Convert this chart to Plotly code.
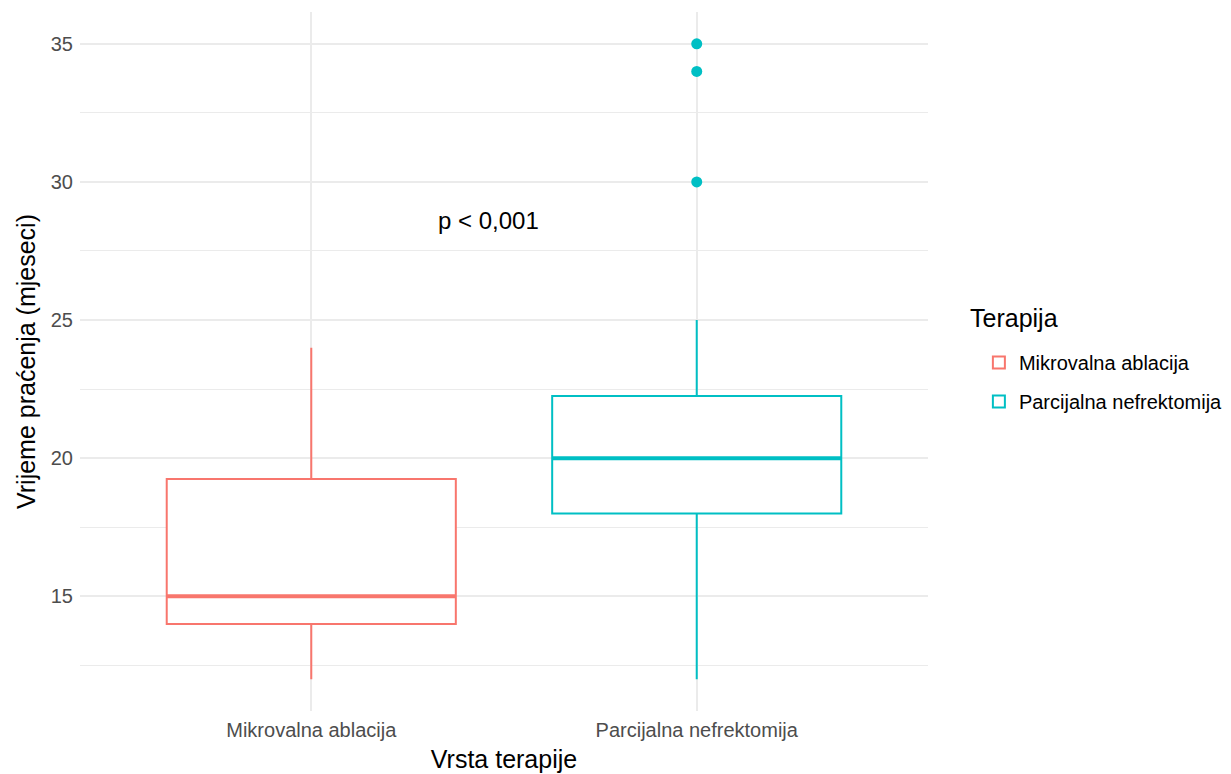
import plotly.graph_objects as go

categories = ["Mikrovalna ablacija", "Parcijalna nefrektomija"]
colors = ["#F8766D", "#00BFC4"]
q1 = [14, 18]
median = [15, 20]
q3 = [19.25, 22.25]
lower_whisker = [12, 12]
upper_whisker = [24, 25]
outliers = [[], [30, 34, 35]]
p_text = "p < 0,001"
p_pos = (1.46, 28.6)
legend_title = "Terapija"

FONT = "Liberation Sans, Arial, Helvetica, sans-serif"
BOXW = 0.75

fig = go.Figure()
for i, cat in enumerate(categories):
    xpos = i + 1
    fig.add_trace(go.Box(
        x=[xpos], q1=[q1[i]], median=[median[i]], q3=[q3[i]],
        lowerfence=[lower_whisker[i]], upperfence=[upper_whisker[i]],
        name=cat, legendgroup=cat, width=BOXW, whiskerwidth=0,
        line=dict(color=colors[i], width=2), fillcolor="white",
        boxpoints=False, hoverinfo="skip",
    ))
    fig.add_trace(go.Scatter(
        x=[xpos - BOXW / 2, xpos + BOXW / 2], y=[median[i], median[i]],
        mode="lines", line=dict(color=colors[i], width=4),
        showlegend=False, legendgroup=cat, hoverinfo="skip",
    ))
    if outliers[i]:
        fig.add_trace(go.Scatter(
            x=[xpos] * len(outliers[i]), y=outliers[i], mode="markers",
            marker=dict(color=colors[i], size=11),
            showlegend=False, legendgroup=cat, hoverinfo="skip",
        ))

fig.add_annotation(x=p_pos[0], y=p_pos[1], text=p_text, showarrow=False,
                   font=dict(family=FONT, size=24, color="black"))

fig.add_annotation(xref="paper", yref="paper", x=(968 - 80) / 848, y=(711 - 318) / 699,
                   xanchor="left", yanchor="middle", text=legend_title, showarrow=False,
                   font=dict(family=FONT, size=25, color="black"))

fig.update_layout(
    width=1231, height=774,
    margin=dict(l=80, r=303, t=12, b=63, autoexpand=False),
    paper_bgcolor="white", plot_bgcolor="white",
    boxmode="overlay",
    font=dict(family=FONT, color="black"),
    xaxis=dict(
        range=[0.4, 2.6], tickvals=[1, 2], ticktext=categories,
        showgrid=True, gridcolor="#EBEBEB", gridwidth=2,
        zeroline=False, showline=False, ticks="", automargin=False,
        tickfont=dict(family=FONT, size=20, color="#4D4D4D"),
        ticklabelstandoff=5,
        title=dict(text="Vrsta terapije", font=dict(family=FONT, size=25), standoff=10),
    ),
    yaxis=dict(
        range=[10.85, 36.15], tick0=0, dtick=5,
        showgrid=True, gridcolor="#EBEBEB", gridwidth=2,
        minor=dict(dtick=2.5, tick0=0, showgrid=True, gridcolor="#EBEBEB", gridwidth=1),
        zeroline=False, showline=False, ticks="", automargin=False,
        tickfont=dict(family=FONT, size=20, color="#4D4D4D"),
        ticklabelstandoff=6,
        title=dict(text="Vrijeme praćenja (mjeseci)", font=dict(family=FONT, size=25), standoff=8),
    ),
    legend=dict(
        x=1.06, xanchor="left", y=(711 - 343) / 699, yanchor="top",
        font=dict(family=FONT, size=20, color="black"),
        tracegroupgap=10, bgcolor="rgba(0,0,0,0)",
    ),
)

fig.write_html(
    "out.html",
    config={"displayModeBar": False},
    post_script="document.body.style.margin='0';document.body.style.overflow='hidden';",
)
